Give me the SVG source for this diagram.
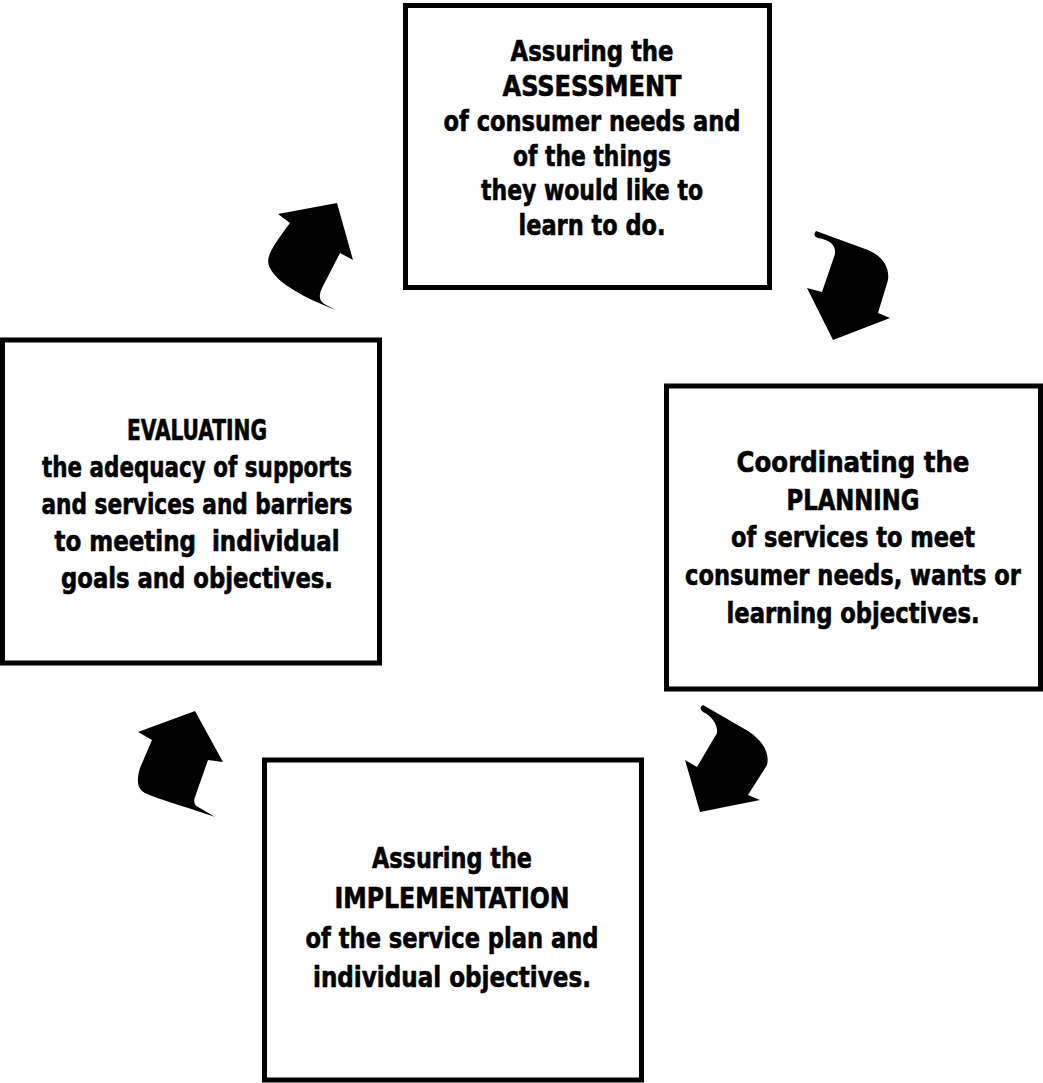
<svg xmlns="http://www.w3.org/2000/svg" width="1043" height="1083" viewBox="0 0 1043 1083">
<style>
.box{fill:#fff;stroke:#000;stroke-width:5}
.t{font-family:"DejaVu Sans Condensed","DejaVu Sans","Liberation Sans",sans-serif;font-stretch:condensed;font-weight:bold;font-size:29px;fill:#000;stroke:#000;stroke-width:0.6;text-anchor:middle;white-space:pre}
.arr{fill:#000;stroke:none}
</style>
<rect width="1043" height="1083" fill="#fff"/>
<g id="assessment">
<rect class="box" x="405.5" y="5.5" width="364" height="282"/>
<text class="t" x="592" y="61" textLength="163" lengthAdjust="spacingAndGlyphs">Assuring the</text>
<text class="t" x="592" y="96" textLength="179" lengthAdjust="spacingAndGlyphs">ASSESSMENT</text>
<text class="t" x="592" y="131" textLength="297" lengthAdjust="spacingAndGlyphs">of consumer needs and</text>
<text class="t" x="592" y="166" textLength="158" lengthAdjust="spacingAndGlyphs">of the things</text>
<text class="t" x="592" y="200" textLength="222" lengthAdjust="spacingAndGlyphs">they would like to</text>
<text class="t" x="592" y="235" textLength="147" lengthAdjust="spacingAndGlyphs">learn to do.</text>
</g>
<g id="planning">
<rect class="box" x="666.5" y="386" width="374" height="303"/>
<text class="t" x="853" y="472" textLength="233" lengthAdjust="spacingAndGlyphs">Coordinating the</text>
<text class="t" x="853" y="510" textLength="133" lengthAdjust="spacingAndGlyphs">PLANNING</text>
<text class="t" x="853" y="547" textLength="244" lengthAdjust="spacingAndGlyphs">of services to meet</text>
<text class="t" x="853" y="585" textLength="336" lengthAdjust="spacingAndGlyphs">consumer needs, wants or</text>
<text class="t" x="853" y="623" textLength="253" lengthAdjust="spacingAndGlyphs">learning objectives.</text>
</g>
<g id="implementation">
<rect class="box" x="264.5" y="760" width="377" height="320"/>
<text class="t" x="452" y="868" textLength="160" lengthAdjust="spacingAndGlyphs">Assuring the</text>
<text class="t" x="452" y="908" textLength="235" lengthAdjust="spacingAndGlyphs">IMPLEMENTATION</text>
<text class="t" x="452" y="948" textLength="293" lengthAdjust="spacingAndGlyphs">of the service plan and</text>
<text class="t" x="452" y="987" textLength="278" lengthAdjust="spacingAndGlyphs">individual objectives.</text>
</g>
<g id="evaluating">
<rect class="box" x="2.5" y="340" width="377" height="323"/>
<text class="t" x="197" y="440" textLength="140" lengthAdjust="spacingAndGlyphs">EVALUATING</text>
<text class="t" x="197" y="477" textLength="310" lengthAdjust="spacingAndGlyphs">the adequacy of supports</text>
<text class="t" x="197" y="514" textLength="311" lengthAdjust="spacingAndGlyphs">and services and barriers</text>
<text class="t" x="197" y="551" textLength="285" lengthAdjust="spacingAndGlyphs">to meeting  individual</text>
<text class="t" x="197" y="588" textLength="272" lengthAdjust="spacingAndGlyphs">goals and objectives.</text>
</g>
<g id="connectors">
<path class="arr" d="M 278,214 L 337,203 L 353,260 L 340,253 L 322,288 Q 316,300 326,305 L 336,310 C 305,298 278,284 270,268 C 265,258 270,250 290,223 Z"/>
<path class="arr" d="M 816,231 L 868,250 C 880,255 890,265 888,280 L 878,313 L 890,318 L 833,340 L 807,288 L 822,292 L 835,254 C 836,245 830,240 818,238 Q 812,236 816,231 Z"/>
<path class="arr" d="M 703,705 L 748,731 C 762,740 770,752 767,765 L 748,795 L 760,800 L 700,812 L 685,760 L 697,767 L 717,733 C 718,725 712,716 703,712 Q 698,708 703,705 Z"/>
<path class="arr" d="M 138,732 L 195,711 L 223,762 L 208,760 L 195,797 Q 192,805 200,808 L 215,817 C 190,808 160,800 145,793 C 136,788 137,778 140,768 L 152,740 Z"/>
</g>
</svg>
